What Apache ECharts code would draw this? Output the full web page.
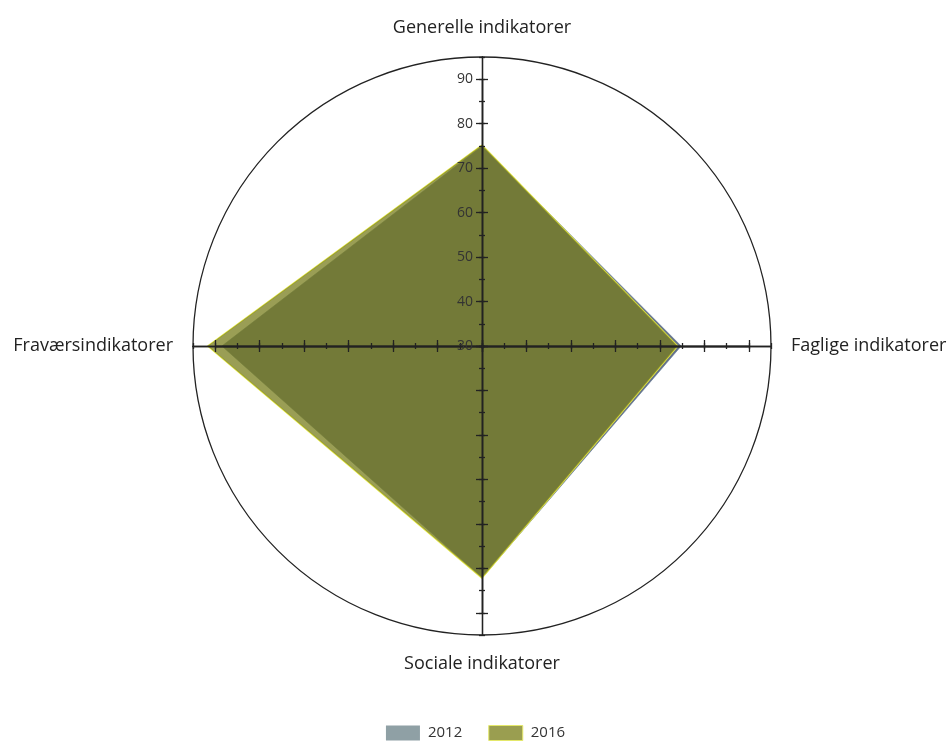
<!DOCTYPE html>
<html>
<head>
<meta charset="utf-8">
<script src="https://cdn.jsdelivr.net/npm/echarts@6/dist/echarts.min.js"></script>
<style>
  html, body { margin: 0; padding: 0; background: #fff; }
  #main { width: 951px; height: 742px; }
</style>
</head>
<body>
<div id="main"></div>
<script>
// indicatorer (radar starter øverst og går mod uret)
const indicators = ["Generelle indikatorer", "Fraværsindikatorer", "Sociale indikatorer", "Faglige indikatorer"];
const axisMin = 30;
const axisMax = 95;
const majorMax = 90;
const years = ["2012", "2016"];
const values2012 = [75, 88.5, 82.2, 74.8];
const values2016 = [75.2, 91.7, 82.2, 74];

const font = "'Open Sans', sans-serif";
const center = [482, 346];
const radius = 289;
const majorRadius = radius * (majorMax - axisMin) / (axisMax - axisMin);

// hjælpefunktion - laver en radar-komponent
function makeRadar(max, r, split, opts) {
  return Object.assign({
    z: 10,
    center: center,
    radius: r,
    startAngle: 90,
    shape: "circle",
    splitNumber: split,
    indicator: indicators.map(name => ({ name: name, min: axisMin, max: max })),
    axisName: { show: false },
    axisLine: { show: true, lineStyle: { color: "#222", width: 1.3 } },
    axisTick: { show: false },
    axisLabel: { show: false },
    splitLine: { show: false },
    splitArea: { show: false },
  }, opts);
}

const myChart = echarts.init(document.getElementById("main"));

myChart.setOption({
  animation: false,
  legend: {
    bottom: -4,
    left: "center",
    itemWidth: 34,
    itemHeight: 15,
    itemGap: 26,
    icon: "rect",
    textStyle: { fontFamily: font, fontSize: 15, color: "#333", padding: [0, 0, 0, 3] },
    data: [
      { name: years[0], itemStyle: { color: "#8fa0a5", borderWidth: 0 } },
      { name: years[1], itemStyle: { color: "#9a9e50", borderColor: "#e4e86a", borderWidth: 1 } },
    ],
  },
  radar: [
    // små streger (hver 5.) + navne
    makeRadar(axisMax, radius, 13, {
      axisName: { show: true, color: "#222", fontFamily: font, fontSize: 18 },
      nameGap: 20,
      axisTick: { show: true, length: 3, lineStyle: { color: "#222", width: 1.3 } },
    }),
    // samme streger paa den anden side (radar ignorerer inside, saa negativ laengde)
    makeRadar(axisMax, radius, 13, {
      axisTick: { show: true, length: -3, lineStyle: { color: "#222", width: 1.3 } },
    }),
    // store streger (hver 10.) + tal på den øverste akse
    makeRadar(majorMax, majorRadius, 6, {
      axisTick: { show: true, length: 6, lineStyle: { color: "#222", width: 1.3 } },
      indicator: indicators.map((name, i) => ({
        name: name, min: axisMin, max: majorMax,
        axisLabel: i === 0 ? { show: true } : undefined,
      })),
      axisLabel: { show: false, showMinLabel: true, color: "#333", fontFamily: font, fontSize: 14, margin: 9 },
    }),
    makeRadar(majorMax, majorRadius, 6, {
      axisTick: { show: true, length: -6, lineStyle: { color: "#222", width: 1.3 } },
    }),
    // yderste cirkel
    makeRadar(axisMax, radius, 1, {
      axisLine: { show: false },
      splitLine: { show: true, lineStyle: { color: "#222", width: 1.3 } },
    }),
  ],
  series: [
    {
      name: years[0],
      type: "radar",
      radarIndex: 0,
      symbol: "none",
      z: 1,
      itemStyle: { color: "#8fa0a5" },
      lineStyle: { color: "#9fb2c0", width: 1 },
      areaStyle: { color: "#63708a", opacity: 1 },
      data: [{ value: values2012, name: years[0] }],
    },
    {
      name: years[1],
      type: "radar",
      radarIndex: 0,
      symbol: "none",
      z: 2,
      itemStyle: { color: "#9a9e50" },
      lineStyle: { color: "#e4e84a", width: 1.5 },
      areaStyle: { color: "#787e1c", opacity: 0.75 },
      data: [{ value: values2016, name: years[1] }],
    },
  ],
});
</script>
</body>
</html>
